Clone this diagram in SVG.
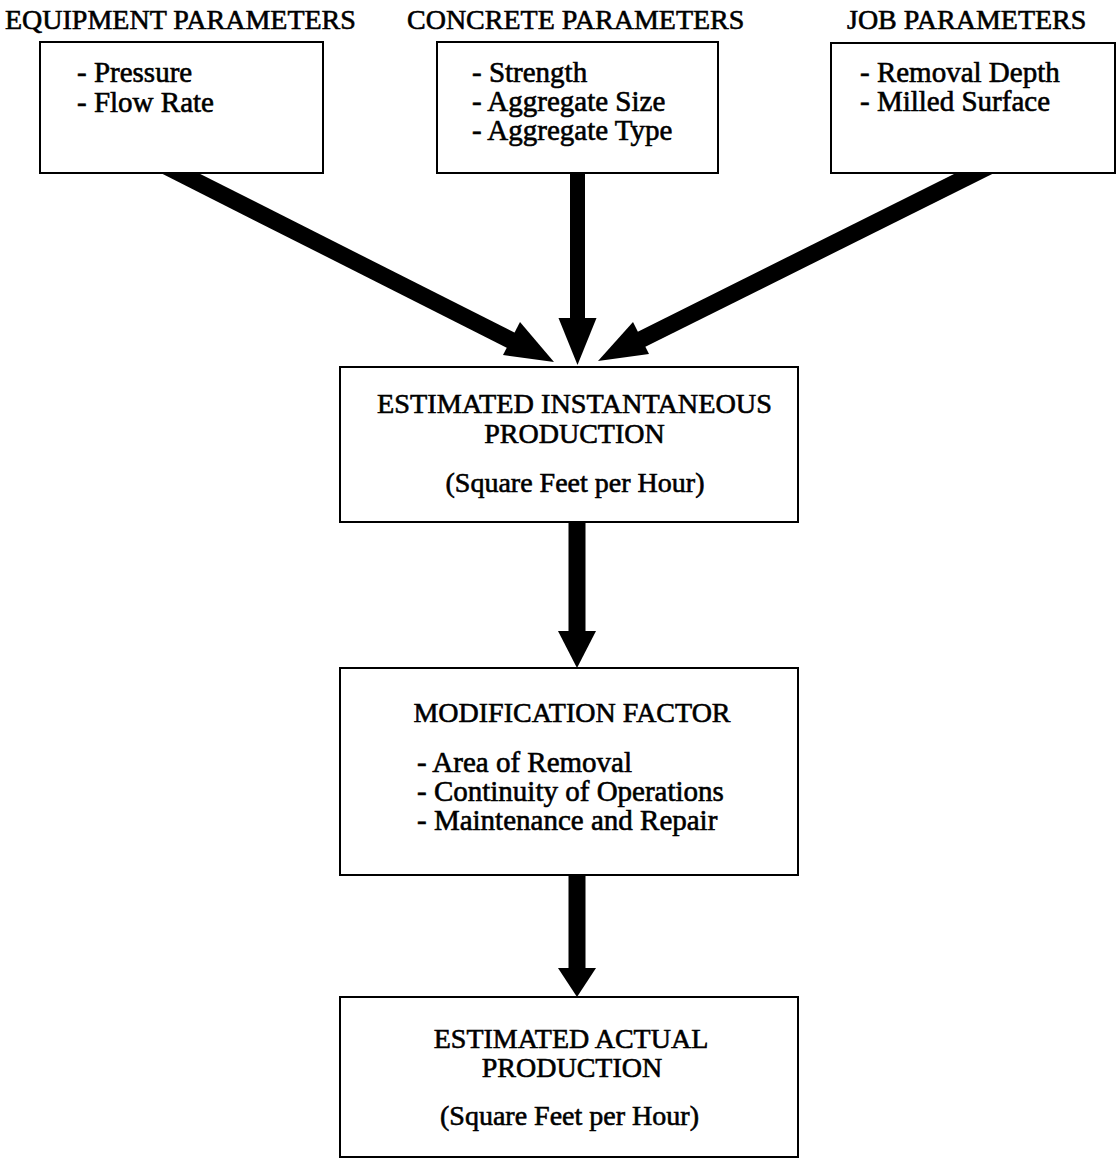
<svg xmlns="http://www.w3.org/2000/svg" width="1118" height="1159" viewBox="0 0 1118 1159">
<style>
  .box { fill: #fff; stroke: #000; stroke-width: 2; }
  .t { font-family: "Liberation Serif", "Times New Roman", serif; font-size: 28px; fill: #000; stroke: #000; stroke-width: 0.6; }
  .c { text-anchor: middle; }
  .b { font-size: 29px; }
  .shaft { stroke: #000; stroke-width: 17; fill: none; }
  .thin { stroke-width: 15; }
  .head { fill: #000; stroke: none; }
</style>
<rect width="1118" height="1159" fill="#fff"/>
<g id="connectors">
  <line class="shaft" x1="161.6" y1="164" x2="512" y2="340.8"/>
  <polygon class="head" points="554,362 503,355 520,322"/>
  <line class="shaft thin" x1="577.5" y1="165" x2="577.5" y2="320"/>
  <polygon class="head" points="577.5,365 558.5,318 596.5,318"/>
  <line class="shaft" x1="992.9" y1="164.1" x2="640.1" y2="340"/>
  <polygon class="head" points="598,361 633,322 649,354"/>
  <line class="shaft" x1="577" y1="515" x2="577" y2="633"/>
  <polygon class="head" points="577,668 558,631 596,631"/>
  <line class="shaft" x1="577" y1="870" x2="577" y2="970"/>
  <polygon class="head" points="577,997 558,968 596,968"/>
</g>
<g id="title-equipment"><text class="t" x="5" y="29">EQUIPMENT PARAMETERS</text></g>
<g id="title-concrete"><text class="t" x="407" y="29">CONCRETE PARAMETERS</text></g>
<g id="title-job"><text class="t" x="847" y="29">JOB PARAMETERS</text></g>
<g id="equipment">
  <rect class="box" x="40" y="42" width="283" height="131"/>
  <text class="t b" x="77" y="82">- Pressure</text>
  <text class="t b" x="77" y="112">- Flow Rate</text>
</g>
<g id="concrete">
  <rect class="box" x="437" y="42" width="281" height="131"/>
  <text class="t b" x="472" y="82">- Strength</text>
  <text class="t b" x="472" y="111">- Aggregate Size</text>
  <text class="t b" x="472" y="140">- Aggregate Type</text>
</g>
<g id="job">
  <rect class="box" x="831" y="43" width="284" height="130"/>
  <text class="t b" x="860" y="82">- Removal Depth</text>
  <text class="t b" x="860" y="111">- Milled Surface</text>
</g>
<g id="instantaneous">
  <rect class="box" x="340" y="367" width="458" height="155"/>
  <text class="t c" x="574.5" y="413" textLength="395" lengthAdjust="spacingAndGlyphs">ESTIMATED INSTANTANEOUS</text>
  <text class="t c" x="574.5" y="443">PRODUCTION</text>
  <text class="t c" x="575" y="492">(Square Feet per Hour)</text>
</g>
<g id="modification">
  <rect class="box" x="340" y="668" width="458" height="207"/>
  <text class="t c" x="572" y="722">MODIFICATION FACTOR</text>
  <text class="t b" x="417" y="772">- Area of Removal</text>
  <text class="t b" x="417" y="801">- Continuity of Operations</text>
  <text class="t b" x="417" y="830">- Maintenance and Repair</text>
</g>
<g id="actual">
  <rect class="box" x="340" y="997" width="458" height="160"/>
  <text class="t c" x="571" y="1048">ESTIMATED ACTUAL</text>
  <text class="t c" x="572" y="1077">PRODUCTION</text>
  <text class="t c" x="569.5" y="1125">(Square Feet per Hour)</text>
</g>
</svg>
